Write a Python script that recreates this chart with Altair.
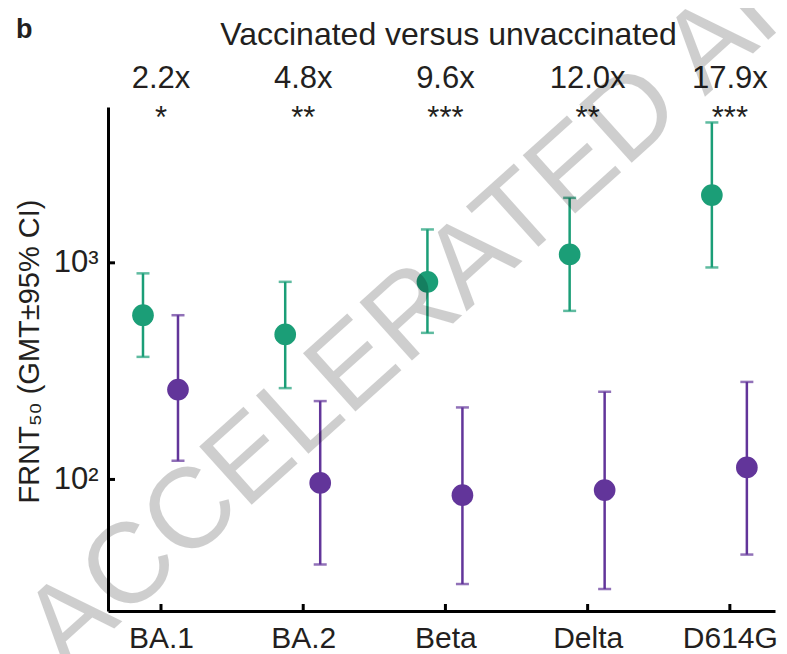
import altair as alt
import pandas as pd

variants = ["BA.1", "BA.2", "Beta", "Delta", "D614G"]
vacc_gmt = [573, 467, 817, 1093, 2054]
vacc_lo = [368, 264, 475, 600, 952]
vacc_hi = [894, 817, 1426, 1995, 4446]
unvacc_gmt = [260, 96.4, 84.6, 89.3, 113.6]
unvacc_lo = [122, 40.5, 32.9, 31.2, 45]
unvacc_hi = [573, 230, 215, 254, 282]
fold_labels = ["2.2x", "4.8x", "9.6x", "12.0x", "17.9x"]
sig_labels = ["*", "**", "***", "**", "***"]
ytick_values = [100, 1000]
ytick_labels = ["10²", "10³"]
y_domain = [24.7, 5240]

W, H = 667, 504
FONT = "Liberation Sans"
TXT = "#231f20"
GREEN = "#1b9e77"
PURPLE = "#62359a"

label_expr = "''"
for v, l in zip(ytick_values, ytick_labels):
    label_expr = f"datum.value == {v} ? '{l}' : ({label_expr})"

x_enc = alt.X(
    "variant:N",
    sort=variants,
    scale=alt.Scale(type="point", domain=variants, padding=0.345, align=0.54),
    axis=alt.Axis(
        title=None, labelAngle=0, ticks=False, tickSize=0, labelPadding=36,
        labelBaseline="alphabetic", labelFontSize=30, labelFont=FONT, labelColor=TXT,
        domainColor="black", domainWidth=3, grid=False,
    ),
)


def y_enc(field):
    return alt.Y(
        f"{field}:Q",
        scale=alt.Scale(type="log", domain=y_domain, nice=False),
        axis=alt.Axis(
            values=ytick_values, labelExpr=label_expr, ticks=False, tickSize=0,
            labelPadding=10, labelFontSize=31, labelFont=FONT, labelColor=TXT,
            domainColor="black", domainWidth=3, grid=False,
            title="FRNT₅₀ (GMT±95% CI)", titleFont=FONT, titleFontSize=29,
            titleFontWeight="normal", titleColor=TXT, titleAngle=270,
            titleX=-70, titleY=244, titleAlign="center", titleBaseline="alphabetic",
        ),
    )


vacc = pd.DataFrame({"variant": variants, "gmt": vacc_gmt, "lo": vacc_lo, "hi": vacc_hi})
unvacc = pd.DataFrame({"variant": variants, "gmt": unvacc_gmt, "lo": unvacc_lo, "hi": unvacc_hi})


def group_layers(df, color, off):
    base = alt.Chart(df)
    bar = base.mark_rule(color=color, strokeWidth=2.5, xOffset=off).encode(
        x=x_enc, y=y_enc("lo"), y2="hi:Q")
    cap_lo = base.mark_tick(color=color, size=13, thickness=2.5, xOffset=off).encode(
        x=x_enc, y=y_enc("lo"))
    cap_hi = base.mark_tick(color=color, size=13, thickness=2.5, xOffset=off).encode(
        x=x_enc, y=y_enc("hi"))
    pts = base.mark_circle(color=color, size=470, opacity=1, xOffset=off).encode(
        x=x_enc, y=y_enc("gmt"))
    return [bar, cap_lo, cap_hi, pts]


yticks = alt.Chart(pd.DataFrame({"v": ytick_values})).mark_rule(
    color="black", strokeWidth=3).encode(y=y_enc("v"), x=alt.value(0), x2=alt.value(7))
xticks = alt.Chart(pd.DataFrame({"variant": variants})).mark_rule(
    color="black", strokeWidth=3).encode(x=x_enc, y=alt.value(H), y2=alt.value(H - 7))

ann = alt.Chart(pd.DataFrame({"variant": variants, "fold": fold_labels, "sig": sig_labels}))
fold_text = ann.mark_text(fontSize=31, font=FONT, color=TXT, baseline="alphabetic").encode(
    x=x_enc, y=alt.value(-19), text="fold:N")
sig_text = ann.mark_text(fontSize=31, font=FONT, color=TXT, baseline="alphabetic").encode(
    x=x_enc, y=alt.value(21), text="sig:N")

title_text = alt.Chart(pd.DataFrame({"t": ["Vaccinated versus unvaccinated"]})).mark_text(
    fontSize=32, font=FONT, color=TXT, baseline="alphabetic", align="center").encode(
    x=alt.value(W / 2 + 7), y=alt.value(-62), text="t:N")
panel_text = alt.Chart(pd.DataFrame({"t": ["b"]})).mark_text(
    fontSize=27, font=FONT, fontWeight="bold", color=TXT, baseline="alphabetic", align="left").encode(
    x=alt.value(-92), y=alt.value(-69), text="t:N")
watermark = alt.Chart(pd.DataFrame({"t": ["ACCELERATED ARTICLE PREVIEW"]})).mark_text(
    fontSize=114, font=FONT, color="black", opacity=0.19, angle=318,
    baseline="alphabetic", align="left").encode(
    x=alt.value(-42), y=alt.value(565), text="t:N")

layers = [xticks, yticks] + group_layers(vacc, GREEN, -18) + group_layers(unvacc, PURPLE, 17) + [
    fold_text, sig_text, title_text, panel_text, watermark]

chart = alt.layer(*layers).properties(
    width=W, height=H,
    background="white",
    autosize=alt.AutoSizeParams(type="none"),
    padding={"left": 100, "top": 99, "right": 4, "bottom": 43},
).configure_view(stroke=None)

chart.save("out.html", embed_options={"renderer": "svg", "actions": False})
